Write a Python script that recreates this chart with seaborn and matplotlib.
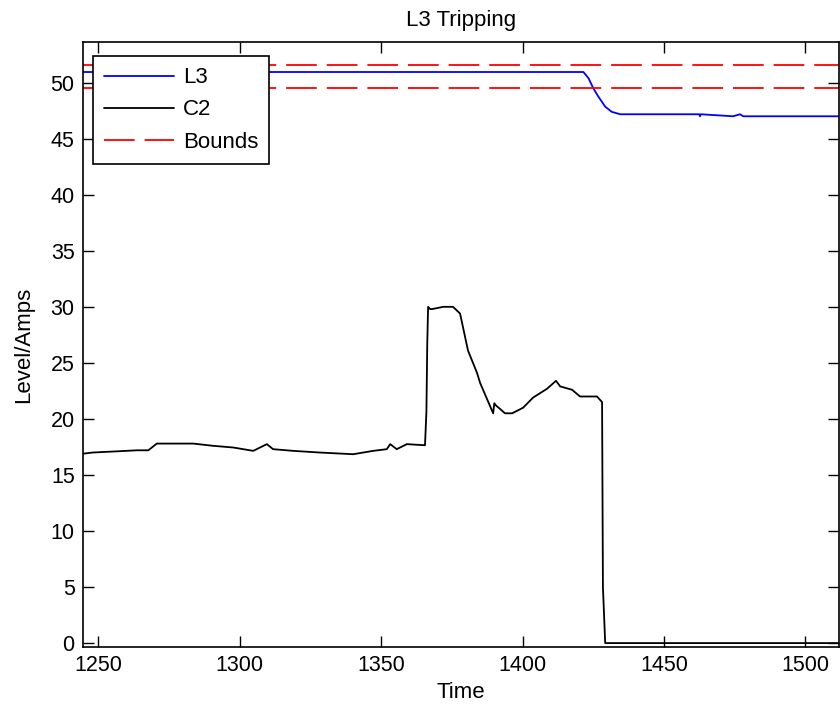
import numpy as np
import seaborn as sns
import matplotlib.pyplot as plt
import pandas as pd

# values
c2_time = [1244.7, 1248.0, 1251.9, 1256.0, 1263.7, 1267.7, 1270.7, 1277.8, 1283.6,
           1290.6, 1297.7, 1304.8, 1309.6, 1311.8, 1318.9, 1328.4, 1340.1, 1347.2,
           1352.0, 1353.2, 1355.5, 1359.1, 1365.5, 1366.0, 1366.3, 1366.6, 1367.3,
           1368.0, 1372.0, 1375.4, 1377.9, 1380.7, 1383.9, 1385.0, 1389.6, 1390.0,
           1390.6, 1393.8, 1396.3, 1400.2, 1403.7, 1408.7, 1411.8, 1413.3, 1417.5,
           1420.3, 1426.3, 1428.1, 1428.4, 1429.2, 1512.0]
c2_amps = [16.9, 17.0, 17.05, 17.1, 17.2, 17.2, 17.8, 17.8, 17.8,
           17.6, 17.45, 17.15, 17.75, 17.3, 17.15, 17.0, 16.85, 17.15,
           17.3, 17.75, 17.3, 17.75, 17.65, 20.6, 26.7, 30.0, 29.8,
           29.8, 30.0, 30.0, 29.4, 26.1, 24.1, 23.2, 20.5, 21.4,
           21.2, 20.5, 20.5, 21.0, 21.9, 22.7, 23.4, 22.9, 22.6,
           22.0, 22.0, 21.5, 5.0, 0.0, 0.0]

l3_time = [1244.7, 1421.5, 1423.3, 1425.0, 1426.8, 1429.2, 1431.5, 1434.5,
           1462.5, 1462.7, 1463.0, 1474.4, 1476.9, 1478.0, 1512.0]
l3_level = [50.95, 50.95, 50.4, 49.5, 48.75, 47.86, 47.4, 47.18,
            47.18, 47.0, 47.18, 47.0, 47.18, 47.0, 47.0]

bounds = [51.6, 49.5]

sns.set_theme(style="ticks")
plt.rcParams['font.family'] = ['Liberation Sans', 'DejaVu Sans']
plt.rcParams['text.color'] = 'black'
plt.rcParams['axes.labelcolor'] = 'black'

fig = plt.figure(figsize=(8.4, 7.11), dpi=100)
ax = fig.add_axes([0.0988, 0.09, 0.9005, 0.8505])

df_l3 = pd.DataFrame({'Time': l3_time, 'Level': l3_level})
df_c2 = pd.DataFrame({'Time': c2_time, 'Level': c2_amps})

sns.lineplot(data=df_l3, x='Time', y='Level', color='#0000ff', lw=1.3, ax=ax,
             label='L3', estimator=None, sort=False)
sns.lineplot(data=df_c2, x='Time', y='Level', color='black', lw=1.3, ax=ax,
             label='C2', estimator=None, sort=False)
for i, b in enumerate(bounds):
    ax.axhline(b, color='#ff0000', lw=1.3, dashes=(17, 5.5),
               label='Bounds' if i == 0 else None)

ax.set_xlim(1244.6, 1512)
ax.set_ylim(-0.35, 53.6)
ax.set_xticks(np.arange(1250, 1501, 50))
ax.set_yticks(np.arange(0, 51, 5))

ax.tick_params(direction='in', length=8, width=1, top=True, right=True,
               labelsize=15.5, colors='black', pad=6)
for s in ax.spines.values():
    s.set_linewidth(1.2)
    s.set_color('black')

ax.set_title('L3 Tripping', fontsize=16, pad=12, color='black')
ax.set_xlabel('Time', fontsize=16, labelpad=4)
ax.set_ylabel('Level/Amps', fontsize=16, labelpad=12)

leg = ax.legend(loc='upper left', bbox_to_anchor=(0.013, 0.977), fontsize=16,
                frameon=True, fancybox=False, edgecolor='black', framealpha=1,
                handlelength=3.15, borderpad=0.5, labelspacing=0.5,
                handletextpad=0.4, borderaxespad=0)
leg.get_frame().set_linewidth(1.2)

fig.savefig('out.png', dpi=100)
